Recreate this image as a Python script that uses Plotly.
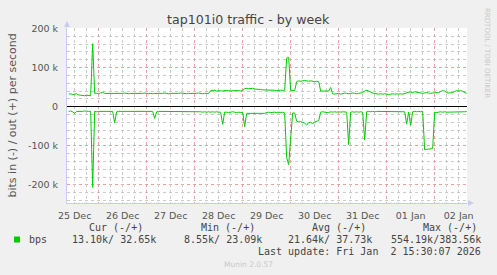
import plotly.graph_objects as go
import pandas as pd

# ---------------- data (values in kbit/s, hourly samples) ----------------
start_time = "2025-12-25 09:00"
n_points = 200

bps_out_k = [
    32, 33, 31, 32, 33,
    30, 29, 29, 28, 29, 29, 28,
    161,
    34, 34, 33, 35, 37, 34, 34, 33, 34, 34,
    33, 34, 34, 33, 34, 35, 34, 33, 34, 34, 33, 34, 33, 34, 34, 35, 34, 33, 34, 33, 34,
    34, 33, 34, 34, 35, 34, 33, 34, 34, 33, 34, 34, 35, 34, 34, 33, 34, 34, 33, 34, 34, 35, 34, 33, 34, 34, 34,
    41, 41, 42, 40, 41, 41, 40, 41, 42, 41, 40, 41, 41, 42, 41, 40, 41,
    46, 47, 46, 46, 47, 45, 45, 44, 44, 43, 43, 42, 42, 43, 42, 42, 41, 42, 42, 42,
    42, 124, 126, 42,
    42, 41,
    64, 66, 65, 66, 67, 66, 65, 66, 65, 64, 65, 64,
    40, 40, 39, 40, 40,
    49,
    33, 32, 33, 34, 32, 33, 35, 34, 33, 34, 35, 34, 33, 34, 35, 36,
    40, 42, 40, 37, 35,
    34, 33, 32, 33, 32, 33, 32, 31, 32, 33, 32, 33, 32, 33, 32, 34, 35,
    37, 37, 36, 38, 37, 36,
    35, 34, 35, 36, 35, 34, 35, 35, 36, 36,
    39, 41, 40,
    36, 35, 35, 36,
    39, 41, 40, 41, 39,
    36, 34,
]

bps_in_k = [
    12, 11, 13, 17, 12, 12, 13, 12, 11, 12, 12, 12,
    206,
    12, 13, 12, 12, 13, 12, 12, 13, 12, 12,
    41,
    13, 12, 12, 13, 12, 12, 12, 13, 12, 12, 13, 12, 12, 12, 13, 12, 12, 13, 12,
    30,
    13, 12, 12, 13, 12, 12, 13, 12, 12, 13, 12, 13, 12, 12, 13, 12, 13, 12, 12, 13,
    12, 12, 13, 14, 13, 14, 13, 14, 13, 14, 13, 14, 14,
    45,
    14, 14, 15, 14, 13, 14, 15, 14, 15, 14,
    51,
    17, 17, 16, 17, 17, 16, 17, 17, 16, 17, 15, 14, 15, 14, 14, 15, 14, 15, 14, 16,
    130, 148, 90,
    16, 16,
    37, 39, 38, 40, 42, 47, 41, 40, 43, 39, 38, 36,
    14, 13, 14, 14, 15, 13, 14, 13, 14, 13, 14, 13, 14, 14,
    97,
    14, 13, 14, 13, 14, 13, 14,
    85,
    13, 12, 13, 12, 13, 12, 12, 13, 12, 12, 13, 12, 12, 13, 12, 12, 13, 12, 12, 13,
    44, 14, 47,
    13, 12, 13, 12, 13, 12,
    110, 109, 108, 108, 107,
    14, 15, 14, 13, 14, 13, 14, 14, 13, 14, 13, 14, 13, 14, 13, 13, 12,
]

y_tick_labels = {"200k": "200 k", "100k": "100 k", "0": "0",
                 "\u2212100k": "-100 k", "\u2212200k": "-200 k",
                 "-100k": "-100 k", "-200k": "-200 k"}

legend_headers = ["Cur (-/+)", "Min (-/+)", "Avg (-/+)", "Max (-/+)"]
legend_values = ["13.10k/ 32.65k", "8.55k/ 23.09k", "21.64k/ 37.73k", "554.19k/383.56k"]
legend_name = "bps"
last_update = "Last update: Fri Jan\u00a0 2 15:30:07 2026"
title_text = "tap101i0 traffic - by week"
y_title = "bits in (-) / out (+) per second"

# ---------------- figure ----------------
assert len(bps_out_k) == n_points and len(bps_in_k) == n_points
times = pd.date_range(start=start_time, periods=n_points, freq="h")
out_vals = [v * 1000 for v in bps_out_k]
in_vals = [-v * 1000 for v in bps_in_k]

W, H = 497, 275
L, R, T, B = 67, 30, 28, 72
PW, PH = W - L - R, H - T - B

def px(x):
    return (x - L) / PW

def py(y):
    return (H - B - y) / PH

GREEN = "#00CC00"
AXIS = "#c6cbef"
TXT = "#444444"
MAJOR = "#eba0a0"
MINOR = "#cacaca"
DASH = "dot"
DAY = 86400000

fig = go.Figure()
# empty helper traces so the overlaid grid axes get drawn
fig.add_trace(go.Scatter(x=[times[0]], y=[None], xaxis="x2", mode="lines",
                         hoverinfo="skip", showlegend=False))
fig.add_trace(go.Scatter(x=[times[0]], y=[None], xaxis="x3", mode="lines",
                         hoverinfo="skip", showlegend=False))
fig.add_trace(go.Scatter(x=times, y=in_vals, mode="lines",
                         line=dict(color=GREEN, width=1), hoverinfo="skip", showlegend=False))
fig.add_trace(go.Scatter(x=times, y=out_vals, mode="lines",
                         line=dict(color=GREEN, width=1), hoverinfo="skip", showlegend=False))

x_start = pd.Timestamp("2025-12-25 08:10")
x_end = x_start + pd.Timedelta(hours=200)

fig.update_layout(
    width=W, height=H,
    margin=dict(l=L, r=R, t=T, b=B),
    paper_bgcolor="#F0F0F0",
    plot_bgcolor="#FFFFFF",
    showlegend=False,
    font=dict(family="DejaVu Sans", size=9.5, color="#555555"),
    xaxis=dict(
        type="date", range=[x_start, x_end],
        tick0="2025-12-25 12:00", dtick=DAY, tickformat="%d %b",
        showgrid=False,
        showline=True, linecolor=AXIS, linewidth=1,
        zeroline=False, ticks="", ticklabelstandoff=4,
        tickfont=dict(size=9.5, color="#555555"),
        fixedrange=True,
    ),
    xaxis2=dict(
        type="date", range=[x_start, x_end], overlaying="x", anchor="y", side="bottom",
        tick0="2025-12-26", dtick=6 * 3600000, showticklabels=False, ticks="",
        showgrid=True, gridcolor=MINOR, griddash=DASH, gridwidth=1,
        showline=False, zeroline=False, fixedrange=True,
    ),
    xaxis3=dict(
        type="date", range=[x_start, x_end], overlaying="x", anchor="y", side="bottom",
        tick0="2025-12-26", dtick=DAY, showticklabels=False, ticks="",
        showgrid=True, gridcolor=MAJOR, griddash=DASH, gridwidth=1,
        showline=False, zeroline=False, fixedrange=True,
    ),
    yaxis=dict(
        range=[-246000, 201000],
        tickmode="linear", tick0=0, dtick=100000, labelalias=y_tick_labels,
        showgrid=True, gridcolor=MAJOR, griddash=DASH, gridwidth=1,
        minor=dict(dtick=20000, tick0=0, showgrid=True,
                   gridcolor=MINOR, griddash=DASH, gridwidth=1),
        showline=True, linecolor=AXIS, linewidth=1,
        zeroline=True, zerolinecolor="#000000", zerolinewidth=1,
        ticks="", ticklabelstandoff=6,
        tickfont=dict(size=9.5, color="#555555"),
        fixedrange=True,
    ),
)

anns = []
anns.append(dict(text=title_text, x=px(248), y=py(20), xref="paper", yref="paper",
                 xanchor="center", yanchor="middle", showarrow=False,
                 font=dict(family="DejaVu Sans", size=12.6, color=TXT)))
anns.append(dict(text=y_title, x=px(12), y=py(115.5), xref="paper", yref="paper",
                 xanchor="center", yanchor="middle", showarrow=False, textangle=-90,
                 font=dict(family="DejaVu Sans", size=11, color="#555555")))
anns.append(dict(text="RRDTOOL / TOBI OETIKER", x=px(487), y=py(53), xref="paper", yref="paper",
                 xanchor="center", yanchor="middle", showarrow=False, textangle=90,
                 font=dict(family="DejaVu Sans", size=7, color="#c8c8c8")))
anns.append(dict(text="Munin 2.0.57", x=px(248), y=py(264), xref="paper", yref="paper",
                 xanchor="center", yanchor="middle", showarrow=False,
                 font=dict(family="DejaVu Sans", size=7.5, color="#c8c8c8")))

mono = dict(family="DejaVu Sans Mono", size=10, color=TXT)
header_centers = [115.7, 228, 338.8, 449.8]
value_rights = [157.7, 264, 374.3, 482.7]
for h, cx in zip(legend_headers, header_centers):
    anns.append(dict(text=h, x=px(cx), y=py(227.7), xref="paper", yref="paper",
                     xanchor="center", yanchor="middle", showarrow=False, font=mono))
for v, rx in zip(legend_values, value_rights):
    anns.append(dict(text=v, x=px(rx), y=py(239.3), xref="paper", yref="paper",
                     xanchor="right", yanchor="middle", showarrow=False, font=mono))
anns.append(dict(text=legend_name, x=px(26.7), y=py(239.3), xref="paper", yref="paper",
                 xanchor="left", yanchor="middle", showarrow=False, font=mono))
anns.append(dict(text=last_update, x=px(482.7), y=py(251.7), xref="paper", yref="paper",
                 xanchor="right", yanchor="middle", showarrow=False, font=mono))
fig.update_layout(annotations=anns)

shapes = [
    dict(type="rect", xref="paper", yref="paper", x0=px(14), x1=px(20), y0=py(242.5), y1=py(236.5),
         fillcolor=GREEN, line=dict(width=0)),
    dict(type="path", xref="paper", yref="paper",
         path=f"M {px(64)},{py(27)} L {px(70)},{py(27)} L {px(67)},{py(21)} Z",
         fillcolor=AXIS, line=dict(width=0)),
    dict(type="path", xref="paper", yref="paper",
         path=f"M {px(468)},{py(200)} L {px(468)},{py(206)} L {px(474)},{py(203)} Z",
         fillcolor=AXIS, line=dict(width=0)),
]
fig.update_layout(shapes=shapes)

fig.write_html("out.html")
